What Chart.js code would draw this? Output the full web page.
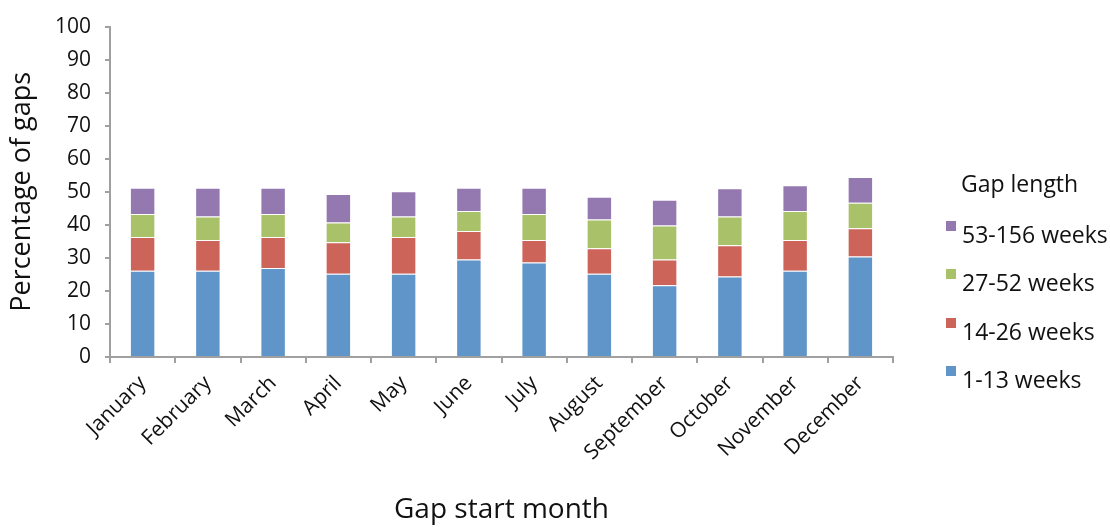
<!DOCTYPE html>
<html>
<head>
<meta charset="utf-8">
<script src="https://cdn.jsdelivr.net/npm/chart.js@4/dist/chart.umd.min.js"></script>
<style>
  body { margin: 0; background: #fff; }
  #wrap { position: relative; width: 1110px; height: 527px; }
  #legend { position: absolute; left: 946px; top: 167px; font-family: "Open Sans", sans-serif; color: #111; }
  #legend .title { font-size: 23px; margin-left: 15px; height: 48px; }
  #legend .item { height: 48.3px; font-size: 23px; position: relative; padding-left: 16px; line-height: 38px; }
  #legend .box { position: absolute; left: 0; top: 6px; width: 10px; height: 10px; }
</style>
</head>
<body>
<div id="wrap">
  <canvas id="gapChart" width="1110" height="527"></canvas>
  <div id="legend"></div>
</div>
<script>
// Gap start month chart

const months = ['January', 'February', 'March', 'April', 'May', 'June', 'July',
  'August', 'September', 'October', 'November', 'December'];

// percentage of gaps per length band
const weeks1to13 = [26.1, 26.1, 26.9, 25.2, 25.2, 29.5, 28.6, 25.2, 21.7, 24.4, 26.1, 30.4];
const weeks14to26 = [10.2, 9.3, 9.4, 9.5, 11.1, 8.6, 6.8, 7.7, 7.8, 9.4, 9.3, 8.6];
const weeks27to52 = [7.0, 7.1, 7.0, 6.0, 6.2, 6.1, 7.9, 8.7, 10.3, 8.7, 8.8, 7.7];
const weeks53to156 = [7.9, 8.7, 7.9, 8.6, 7.7, 7.0, 7.9, 6.9, 7.8, 8.6, 7.8, 7.8];

const seriesNames = ['1-13 weeks', '14-26 weeks', '27-52 weeks', '53-156 weeks'];
const seriesColors = ['#5f95c8', '#cd645a', '#a9c26a', '#9479b1'];

const font = '"Open Sans", sans-serif';
const axisGrey = '#a0a0a0';

const datasets = [weeks1to13, weeks14to26, weeks27to52, weeks53to156].map((vals, i) => ({
    label: seriesNames[i],
    data: vals,
    backgroundColor: seriesColors[i],
    borderColor: 'rgba(255,255,255,0.35)',
    borderWidth: 1,
    categoryPercentage: 1,
    barPercentage: 0.39
}));

const ctx = document.getElementById('gapChart').getContext('2d');
new Chart(ctx, {
    type: 'bar',
    data: { labels: months, datasets: datasets },
    options: {
        responsive: false,
        animation: false,
        layout: { padding: { top: 23, right: 217, left: 0, bottom: 0 } },
        plugins: {
            legend: { display: false },
            tooltip: { enabled: false }
        },
        scales: {
            x: {
                stacked: true,
                afterFit: s => { s.height = 170; },
                border: { display: true, color: axisGrey, width: 2 },
                grid: { display: true, drawOnChartArea: false, drawTicks: true, tickLength: 6, color: axisGrey, lineWidth: 2 },
                ticks: { color: '#111', font: { family: font, size: 21 }, minRotation: 45, maxRotation: 45, padding: 8 },
                title: { display: true, text: 'Gap start month', color: '#111', font: { family: font, size: 28 }, padding: { top: 0, bottom: 0 } }
            },
            y: {
                stacked: true,
                min: 0,
                max: 100,
                afterFit: s => { s.width = 110; },
                border: { display: true, color: axisGrey, width: 2 },
                grid: { display: true, drawOnChartArea: false, drawTicks: true, tickLength: 5, color: axisGrey, lineWidth: 2 },
                ticks: { stepSize: 10, color: '#111', font: { family: font, size: 21 }, padding: 14 },
                title: { display: true, text: 'Percentage of gaps', color: '#111', font: { family: font, size: 27 }, padding: { top: 6, bottom: 0 } }
            }
        }
    }
});

// legend, top entry is the last series like the stacked order
const legend = document.getElementById('legend');
legend.innerHTML = '<div class="title">Gap length</div>';
for (let i = seriesNames.length - 1; i >= 0; i--) {
    const item = document.createElement('div');
    item.className = 'item';
    item.innerHTML = '<span class="box" style="background:' + seriesColors[i] + '"></span>' + seriesNames[i];
    legend.appendChild(item);
}
</script>
</body>
</html>
